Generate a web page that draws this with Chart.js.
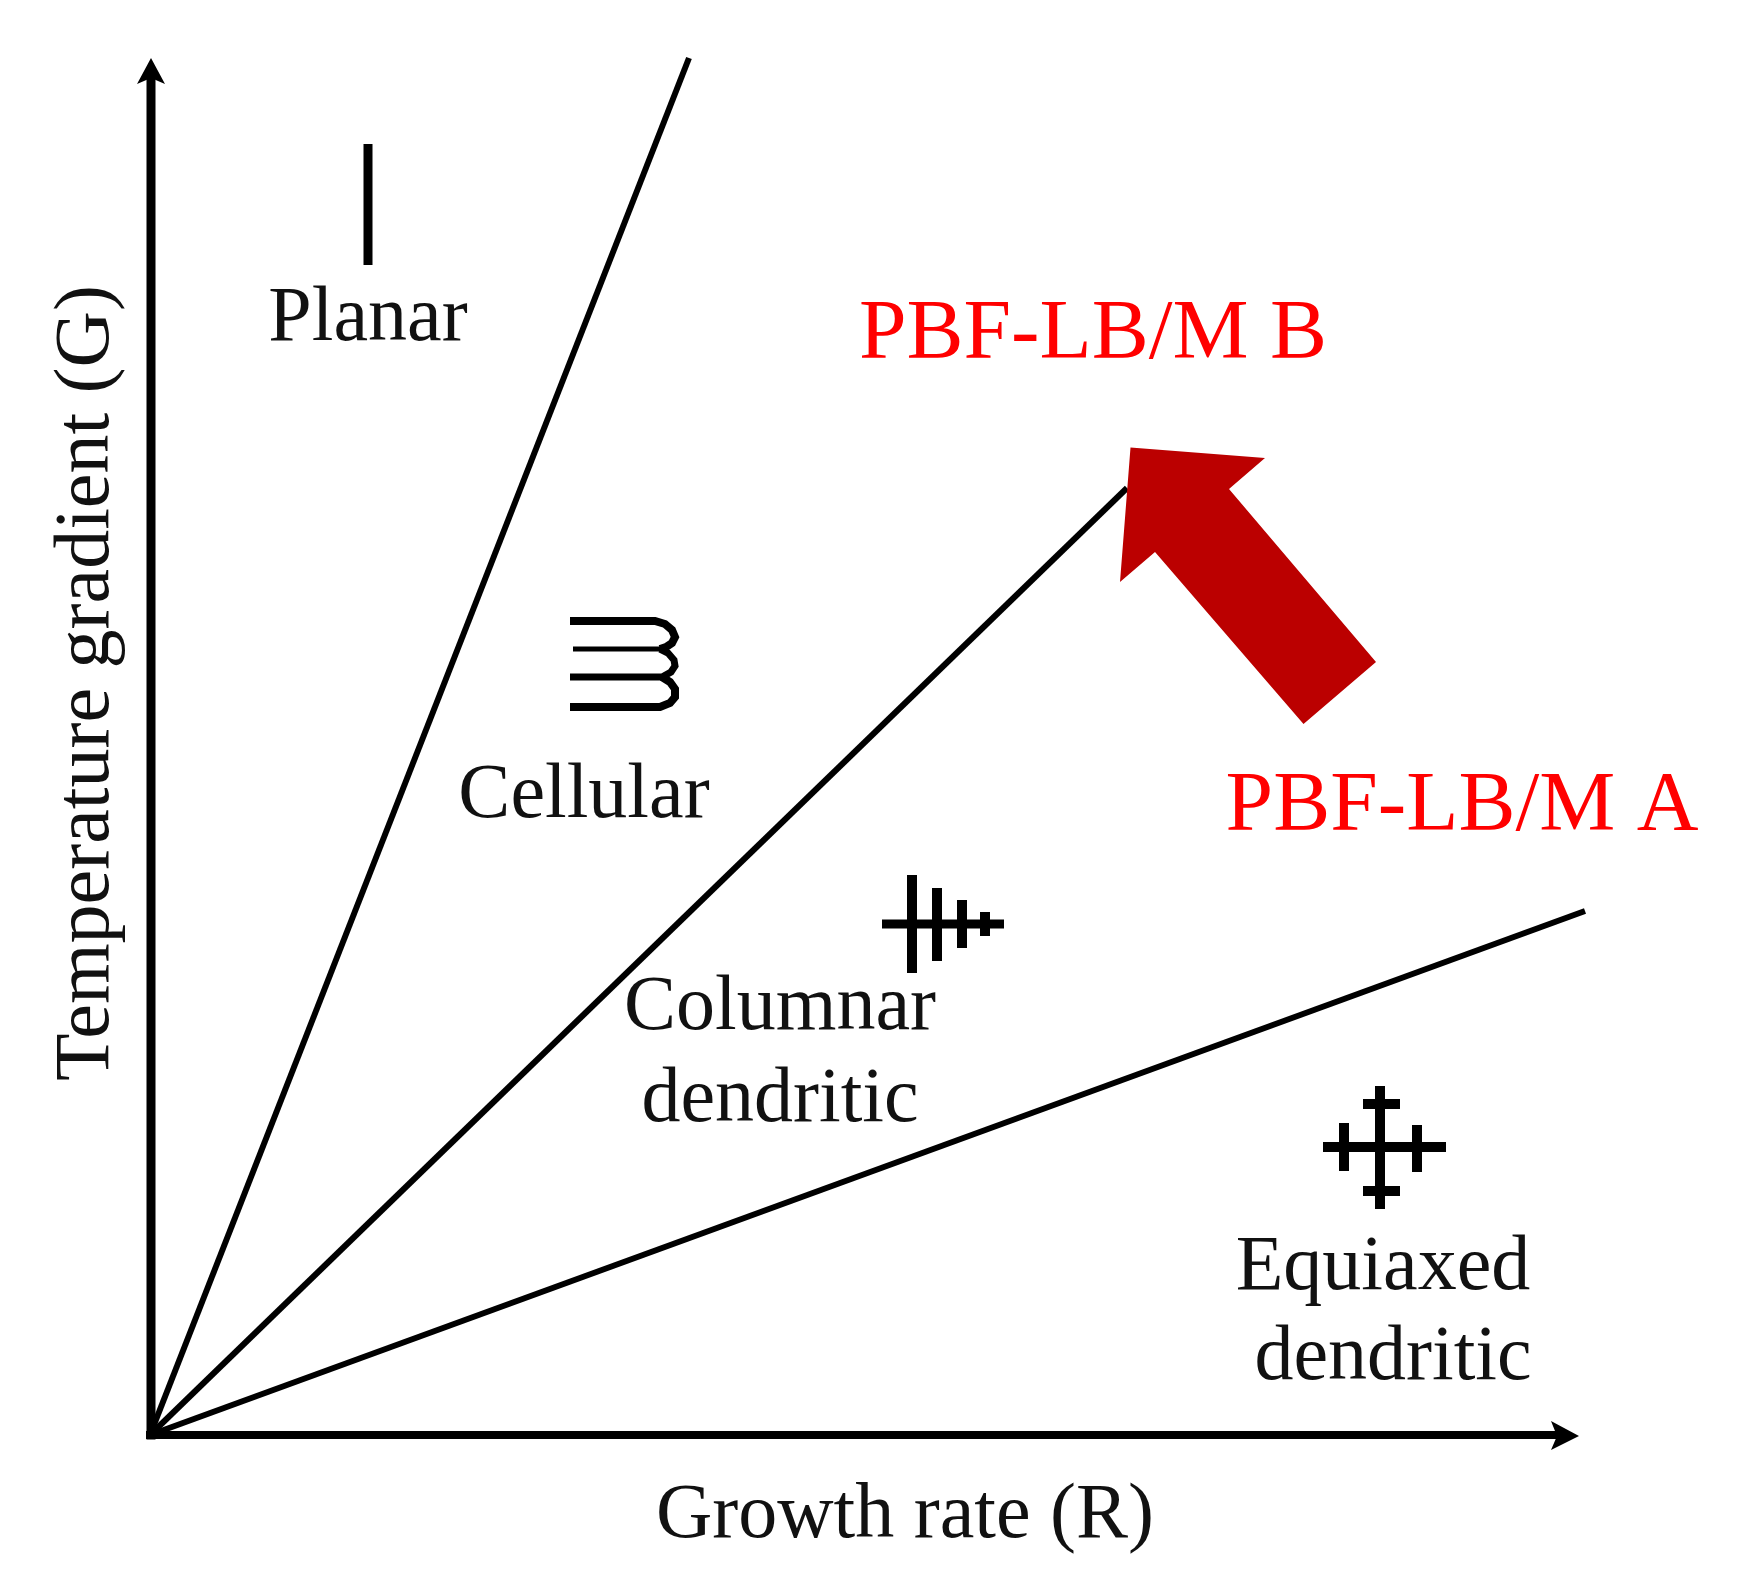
<!DOCTYPE html>
<html>
<head>
<meta charset="utf-8">
<style>html,body{margin:0;padding:0;background:#fff}canvas{display:block}</style>
<script src="https://cdn.jsdelivr.net/npm/chart.js@4"></script>
</head>
<body>
<canvas id="c" width="1756" height="1592"></canvas>
<script>
// Region boundaries (growth rate R, temperature gradient G)
const boundaryPlanar   = [[0,0],[539,1377]];
const boundaryCellular = [[0,0],[977,947]];
const boundaryColumnar = [[0,0],[1435,524]];

// Axes
const axisG = [[1,0],[1,1355]];
const axisR = [[0,0],[1405,0]];
const headG = [[1,1377],[-13,1351],[1,1357],[15,1351],[1,1377]];
const headR = [[1429,-1],[1401,14],[1407,-1],[1401,-15],[1429,-1]];

// Process shift arrow
const shiftArrow = [[980.5,987.5],[1115,977],[1079,946],[1226,773],[1153.5,711],[1005,883],[970,853],[980.5,987.5]];

// Morphology glyphs
const planarGlyph = [[218,1291],[218,1170]];
const cellularTop = [[420,814],[505,814],[515,811],[522,805],[525,798],[522,792],[516,788],[510,786]];
const cellularMid = [[423,786],[510,786]];
const cellularLow = [[510,786],[518,782],[524,775],[525,769],[521,763],[512,758],[420,758]];
const cellularEnd = [[512,758],[520,753],[525,746],[525,738],[520,732],[510,728],[420,728]];
const columnarStem = [[732,511],[854,511]];
const columnarArm1 = [[762,560],[762,462]];
const columnarArm2 = [[787,547],[787,474]];
const columnarArm3 = [[812,535],[812,487]];
const columnarArm4 = [[835,523],[835,499]];
const equiaxedH = [[1173,288],[1296,288]];
const equiaxedV = [[1230,349],[1230,226]];
const equiaxedTop = [[1213,331],[1250,331]];
const equiaxedBottom = [[1213,244],[1250,244]];
const equiaxedLeft = [[1194,312],[1194,264]];
const equiaxedRight = [[1267,310],[1267,263]];

// Text
const regionLabels = ['Planar','Cellular','Columnar','dendritic','Equiaxed','dendritic'];
const regionLabelX = [218,434,630,630,1233,1243];
const regionLabelY = [1095,618,406,314,146,56];
const processLabels = ['PBF-LB/M B','PBF-LB/M A'];
const processLabelX = [943,1312];
const processLabelY = [1077,605];
const xTitle = 'Growth rate (R)';
const yTitle = 'Temperature gradient (G)';

const pts = a => a.map(p => ({x:p[0], y:p[1]}));
const stroke = (a, w, extra) => Object.assign({data:pts(a), showLine:true, borderColor:'#000', borderWidth:w,
  pointRadius:0, fill:false, clip:false, tension:0, borderCapStyle:'butt'}, extra||{});
const shape = (a, c) => ({data:pts(a), showLine:true, borderColor:c, borderWidth:0, backgroundColor:c,
  pointRadius:0, fill:'shape', clip:false, tension:0});

const SERIF = '"Liberation Serif"';
const textPlugin = {
  id:'diagramText',
  afterDatasetsDraw(chart){
    const {ctx, scales:{x, y}} = chart;
    ctx.save();
    ctx.textBaseline = 'alphabetic';
    ctx.textAlign = 'center';
    ctx.fillStyle = '#111';
    ctx.font = '78px ' + SERIF;
    regionLabels.forEach((t,i) => ctx.fillText(t, x.getPixelForValue(regionLabelX[i]), y.getPixelForValue(regionLabelY[i])));
    ctx.fillText(xTitle, 905, 1537);
    ctx.fillStyle = '#ff0000';
    ctx.font = '85.5px ' + SERIF;
    processLabels.forEach((t,i) => ctx.fillText(t, x.getPixelForValue(processLabelX[i]), y.getPixelForValue(processLabelY[i])));
    ctx.fillStyle = '#111';
    ctx.font = '78px ' + SERIF;
    ctx.translate(108, 683);
    ctx.rotate(-Math.PI/2);
    ctx.fillText(yTitle, 0, 0);
    ctx.restore();
  }
};

new Chart(document.getElementById('c'), {
  type:'scatter',
  data:{datasets:[
    shape(shiftArrow,'#bb0000'),
    shape(headG,'#000'),
    shape(headR,'#000'),
    stroke(axisG,9,{borderCapStyle:'square'}),
    stroke(axisR,8,{borderCapStyle:'square'}),
    stroke(boundaryPlanar,6),
    stroke(boundaryCellular,6),
    stroke(boundaryColumnar,6),
    stroke(planarGlyph,9),
    stroke(cellularTop,8),
    stroke(cellularMid,5),
    stroke(cellularLow,7),
    stroke(cellularEnd,8),
    stroke(columnarStem,9),
    stroke(columnarArm1,10),
    stroke(columnarArm2,10),
    stroke(columnarArm3,10),
    stroke(columnarArm4,10),
    stroke(equiaxedH,10),
    stroke(equiaxedV,10),
    stroke(equiaxedTop,10),
    stroke(equiaxedBottom,10),
    stroke(equiaxedLeft,10),
    stroke(equiaxedRight,10)
  ]},
  options:{
    responsive:false, animation:false, devicePixelRatio:1,
    layout:{padding:{left:130,right:166,top:50,bottom:137}},
    plugins:{legend:{display:false},tooltip:{enabled:false},title:{display:false}},
    scales:{
      x:{type:'linear',min:-20,max:1440,grid:{display:false},border:{display:false},ticks:{display:false},afterFit(s){s.height=0;}},
      y:{type:'linear',min:-20,max:1385,grid:{display:false},border:{display:false},ticks:{display:false},afterFit(s){s.width=0;}}
    }
  },
  plugins:[textPlugin]
});
</script>
</body>
</html>
